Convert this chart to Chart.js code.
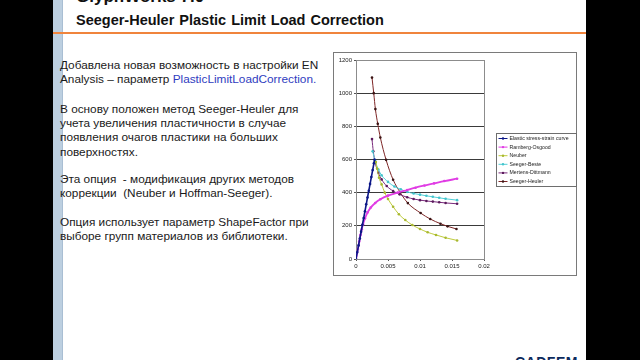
<!DOCTYPE html>
<html>
<head>
<meta charset="utf-8">
<script src="https://cdn.jsdelivr.net/npm/chart.js@4/dist/chart.umd.min.js"></script>
<style>
  html, body { margin: 0; padding: 0; background: #000; }
  body { width: 640px; height: 360px; position: relative; overflow: hidden; font-family: "Liberation Sans", Arial, sans-serif; }
  #slide { position: absolute; left: 53px; top: 0; width: 533px; height: 360px; background: #fff; overflow: hidden; }
  #stripe { position: absolute; left: 0; top: 0; width: 9px; height: 360px; background: #bccfe0; border-right: 1px solid #a9bed3; }
  #rule { position: absolute; left: 0; top: 32px; width: 533px; height: 2px; background: #f0843c; }
  .t1 { position: absolute; left: 23px; top: -13px; font-weight: bold; font-size: 17px; color: #111; white-space: nowrap; }
  .t2 { position: absolute; left: 23px; top: 12px; font-weight: bold; font-size: 14.5px; color: #111; white-space: nowrap; word-spacing: 1px; }
  .p { position: absolute; left: 7px; font-size: 11.8px; line-height: 14.2px; color: #1a1a1a; white-space: nowrap; }
  .hl { color: #2f3cc0; }
  #logo { position: absolute; left: 462px; top: 354px; font-weight: bold; font-size: 14px; line-height: 16px; color: #0c2a5c; letter-spacing: 0.5px; }
  #chartBox { position: absolute; left: 280px; top: 52px; width: 244px; height: 224px; }
</style>
</head>
<body>
<div id="slide">
  <div id="stripe"></div>
  <div class="t1">GlyphWorks 7.0 –</div>
  <div class="t2">Seeger-Heuler Plastic Limit Load Correction</div>
  <div id="rule"></div>
  <div class="p" style="top:58px">Добавлена новая возможность в настройки EN<br>Analysis – параметр <span class="hl">PlasticLimitLoadCorrection.</span></div>
  <div class="p" style="top:102px">В основу положен метод Seeger-Heuler для<br>учета увеличения пластичности в случае<br>появления очагов пластики на больших<br>поверхностях.</div>
  <div class="p" style="top:172px">Эта опция&nbsp; - модификация других методов<br>коррекции&nbsp; (Neuber и Hoffman-Seeger).</div>
  <div class="p" style="top:215px">Опция использует параметр ShapeFactor при<br>выборе групп материалов из библиотеки.</div>
  <div id="logo">CADFEM</div>
  <div id="chartBox"><canvas id="c" width="244" height="224"></canvas></div>
</div>
<script>
// Strain (x) and stress (y) readings for each curve
const elasticStrain = [0, 0.0002, 0.0004, 0.0006, 0.0008, 0.001, 0.0012, 0.0014, 0.0016, 0.0018, 0.002, 0.0022, 0.0024, 0.0026, 0.0028, 0.0029];
const elasticStress = [0, 41, 82, 124, 165, 206, 247, 288, 330, 371, 412, 453, 494, 536, 577, 600];

const rambergStrain = [0, 0.0003, 0.0005, 0.0007, 0.0009, 0.0011, 0.0014, 0.0018, 0.0023, 0.003, 0.0038, 0.005, 0.0065, 0.008, 0.0093, 0.0107, 0.0122, 0.0138, 0.0158];
const rambergStress = [0, 60, 105, 145, 180, 210, 245, 280, 310, 338, 360, 382, 400, 416, 430, 443, 456, 470, 484];

const neuberStrain = [0.0031, 0.0033, 0.0036, 0.004, 0.0045, 0.005, 0.0058, 0.0067, 0.0077, 0.0088, 0.01, 0.0112, 0.0125, 0.014, 0.0158];
const neuberStress = [585, 545, 490, 450, 400, 362, 315, 270, 235, 205, 181, 161, 145, 128, 112];

const besteStrain = [0.0026, 0.003, 0.0035, 0.004, 0.005, 0.006, 0.007, 0.008, 0.009, 0.01, 0.011, 0.012, 0.013, 0.014, 0.0158];
const besteStress = [650, 590, 540, 505, 465, 437, 420, 405, 395, 388, 381, 375, 369, 363, 355];

const mertensStrain = [0.0025, 0.0027, 0.003, 0.0035, 0.004, 0.0048, 0.0058, 0.0068, 0.008, 0.009, 0.01, 0.011, 0.012, 0.013, 0.014, 0.0158];
const mertensStress = [723, 650, 580, 520, 480, 440, 410, 390, 372, 362, 355, 350, 346, 342, 338, 333];

const heulerStrain = [0.0025, 0.00277, 0.00303, 0.0034, 0.0038, 0.0047, 0.0058, 0.0069, 0.0081, 0.0101, 0.0116, 0.0132, 0.0143, 0.0157];
const heulerStress = [1094, 1000, 904, 815, 733, 598, 478, 402, 337, 277, 241, 213, 197, 181];

const seriesNames = ['Elastic stress-strain curve', 'Ramberg-Osgood', 'Neuber', 'Seeger-Beste', 'Mertens-Dittmann', 'Seeger-Heuler'];
const xTickLabels = ['0', '0.005', '0.01', '0.015', '0.02'];
const yTickLabels = ['0', '200', '400', '600', '800', '1000', '1200'];

const colours = ['#0b1687', '#e03ce4', '#bfcc3c', '#52d0d8', '#7a2a7c', '#7e2626'];
const markerColours = ['#0b1687', '#e03ce4', '#a8b830', '#44c4cc', '#5a1a5c', '#3a1414'];
const widths = [1.6, 1.8, 1, 1, 1, 1];

function pts(xs, ys) { return xs.map((x, i) => ({ x: x, y: ys[i] })); }
const pairs = [
  [elasticStrain, elasticStress], [rambergStrain, rambergStress], [neuberStrain, neuberStress],
  [besteStrain, besteStress], [mertensStrain, mertensStress], [heulerStrain, heulerStress]
];

const datasets = pairs.map((p, i) => ({
  label: seriesNames[i],
  data: pts(p[0], p[1]),
  showLine: true,
  borderColor: colours[i],
  backgroundColor: markerColours[i],
  borderWidth: widths[i],
  pointRadius: 1.3,
  pointBorderWidth: 0,
  cubicInterpolationMode: i === 0 ? 'default' : 'monotone',
  tension: i === 0 ? 0 : 0.4
}));

// Frame, plot border and the boxed legend on the right
const decor = {
  id: 'decor',
  beforeDraw(chart) {
    const ctx = chart.ctx;
    ctx.save();
    ctx.fillStyle = '#fff';
    ctx.fillRect(0, 0, chart.width, chart.height);
    ctx.strokeStyle = '#7a7a7a';
    ctx.lineWidth = 1;
    ctx.strokeRect(0.5, 0.5, chart.width - 1, chart.height - 1);
    ctx.restore();
  },
  beforeDatasetsDraw(chart) {
    const a = chart.chartArea, ctx = chart.ctx;
    ctx.save();
    ctx.strokeStyle = '#8c8c8c';
    ctx.lineWidth = 1;
    ctx.strokeRect(Math.round(a.left) + 0.5, Math.round(a.top) + 0.5, Math.round(a.right - a.left), Math.round(a.bottom - a.top));
    ctx.restore();
  },
  afterDraw(chart) {
    const ctx = chart.ctx;
    const bx = 163.5, by = 81.5, bw = 80, bh = 53;
    ctx.save();
    ctx.fillStyle = '#fff';
    ctx.fillRect(bx, by, bw, bh);
    ctx.strokeStyle = '#6e6e6e';
    ctx.lineWidth = 1;
    ctx.strokeRect(bx, by, bw, bh);
    ctx.font = '5.2px "Liberation Sans", Arial, sans-serif';
    ctx.textBaseline = 'middle';
    chart.data.datasets.forEach((d, i) => {
      const y = by + 5 + i * 8.6;
      ctx.strokeStyle = d.borderColor;
      ctx.lineWidth = 1;
      ctx.beginPath(); ctx.moveTo(bx + 2, y); ctx.lineTo(bx + 11, y); ctx.stroke();
      ctx.fillStyle = d.backgroundColor;
      ctx.beginPath(); ctx.arc(bx + 6.5, y, 1.2, 0, Math.PI * 2); ctx.fill();
      ctx.fillStyle = '#222';
      ctx.fillText(d.label, bx + 13, y);
    });
    ctx.restore();
  }
};

new Chart(document.getElementById('c'), {
  type: 'scatter',
  data: { datasets: datasets },
  plugins: [decor],
  options: {
    responsive: false,
    animation: false,
    devicePixelRatio: 1,
    layout: { padding: { left: 0, top: 8, right: 93, bottom: 0 } },
    plugins: { legend: { display: false }, tooltip: { enabled: false } },
    scales: {
      x: {
        type: 'linear', min: 0, max: 0.02,
        afterFit: s => { s.height = 17; },
        afterBuildTicks: s => { s.ticks = xTickLabels.map(v => ({ value: parseFloat(v) })); },
        ticks: { callback: (v, i) => xTickLabels[i], color: '#222', font: { size: 6, family: '"Liberation Sans", Arial' }, padding: 2, maxRotation: 0, autoSkip: false },
        grid: { drawOnChartArea: false, drawTicks: true, tickLength: 2, tickColor: '#555' },
        border: { display: false }
      },
      y: {
        type: 'linear', min: 0, max: 1200,
        afterFit: s => { s.width = 23; },
        afterBuildTicks: s => { s.ticks = yTickLabels.map(v => ({ value: parseFloat(v) })); },
        ticks: { callback: (v, i) => yTickLabels[i], color: '#222', font: { size: 6, family: '"Liberation Sans", Arial' }, padding: 2, autoSkip: false },
        grid: {
          color: c => (c.tick && (c.tick.value === 0 || c.tick.value === 1200)) ? 'rgba(0,0,0,0)' : '#3a3a3a',
          lineWidth: 1, drawTicks: true, tickLength: 2, tickColor: '#555'
        },
        border: { display: false }
      }
    }
  }
});
</script>
</body>
</html>
